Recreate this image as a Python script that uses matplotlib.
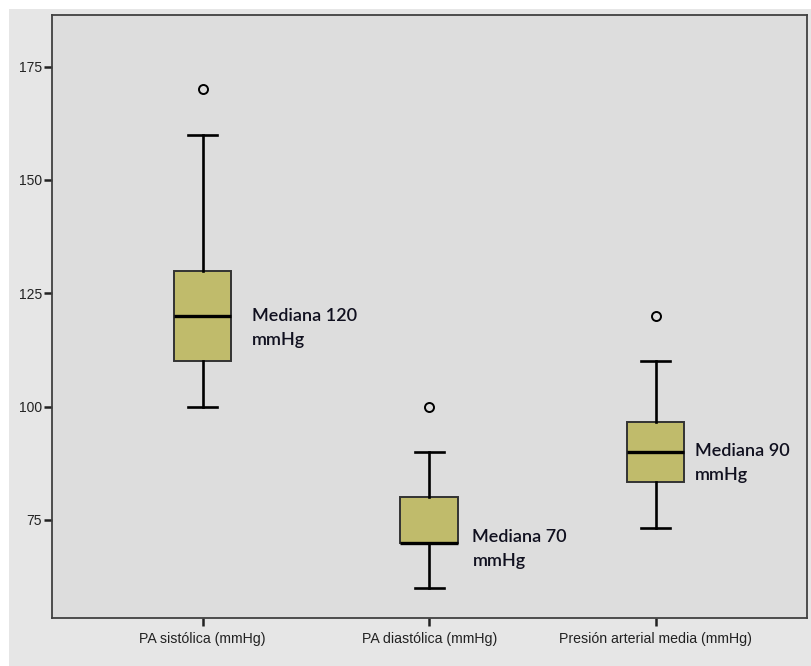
import matplotlib
matplotlib.use("Agg")
import matplotlib.pyplot as plt
from matplotlib.patches import Rectangle

# --- datos ---
categorias = ["PA sistólica (mmHg)", "PA diastólica (mmHg)", "Presión arterial media (mmHg)"]
bigote_inf = [100, 60, 73.3]
q1 = [110, 70, 83.3]
mediana = [120, 70, 90]
q3 = [130, 80, 96.5]
bigote_sup = [160, 90, 110]
atipicos = [[170], [100], [120]]
etiquetas = ["Mediana 120\nmmHg", "Mediana 70\nmmHg", "Mediana 90\nmmHg"]
yticks = [75, 100, 125, 150, 175]

# --- estilo ---
FONDO_EXT = "#e6e6e6"
FONDO_PLOT = "#dddddd"
CAJA = "#c0bb6b"
BORDE = "#333333"
TEXTO_MED = "#10101f"

fig = plt.figure(figsize=(8.11, 6.66), dpi=100, facecolor="white")
# franja gris exterior (deja un borde blanco arriba e izquierda)
fig.patches.append(Rectangle((9 / 811, 0), 1, 1 - 9 / 666, transform=fig.transFigure,
                             facecolor=FONDO_EXT, edgecolor="none", zorder=-10))

ax = fig.add_axes([51.7 / 811, 47.7 / 666, (806.7 - 51.7) / 811, (618.3 - 15) / 666])
ax.set_facecolor(FONDO_PLOT)

stats = []
for i in range(len(categorias)):
    stats.append(dict(whislo=bigote_inf[i], q1=q1[i], med=mediana[i], q3=q3[i],
                      whishi=bigote_sup[i], fliers=atipicos[i], label=categorias[i]))

pos = [1, 2, 3]
ax.bxp(stats, positions=pos, widths=0.254, patch_artist=True, showfliers=True,
       boxprops=dict(facecolor=CAJA, edgecolor=BORDE, linewidth=1.4),
       medianprops=dict(color="black", linewidth=2.4, solid_capstyle="butt"),
       whiskerprops=dict(color="black", linewidth=1.9),
       capprops=dict(color="black", linewidth=1.9),
       flierprops=dict(marker="o", markerfacecolor="none", markeredgecolor="black",
                       markersize=6.5, markeredgewidth=1.4))

# etiquetas de mediana
dx = [0.216, 0.191, 0.174]
dy = [1.8, 3.0, 1.9]
for i, txt in enumerate(etiquetas):
    ax.text(pos[i] + dx[i], mediana[i] + dy[i], txt, ha="left", va="top",
            fontsize=13, family="Lato", fontweight="semibold", color=TEXTO_MED,
            linespacing=1.6, transform=ax.transData)

ax.set_xlim(1 / 3, 11 / 3)
ax.set_ylim(53.3, 186.4)
ax.set_yticks(yticks)
ax.set_xticks(pos)
ax.set_xticklabels(categorias)

for s in ax.spines.values():
    s.set_color("#404040")
    s.set_linewidth(1.3)

ax.tick_params(axis="y", length=6, width=1.8, pad=1, labelsize=10, color="#222222")
ax.tick_params(axis="x", length=6, width=1.8, pad=4, labelsize=10.2, color="#222222")
for lab in ax.get_xticklabels() + ax.get_yticklabels():
    lab.set_family("Liberation Sans")
    lab.set_color("#222222")

fig.savefig("out.png", dpi=100, facecolor=fig.get_facecolor())
